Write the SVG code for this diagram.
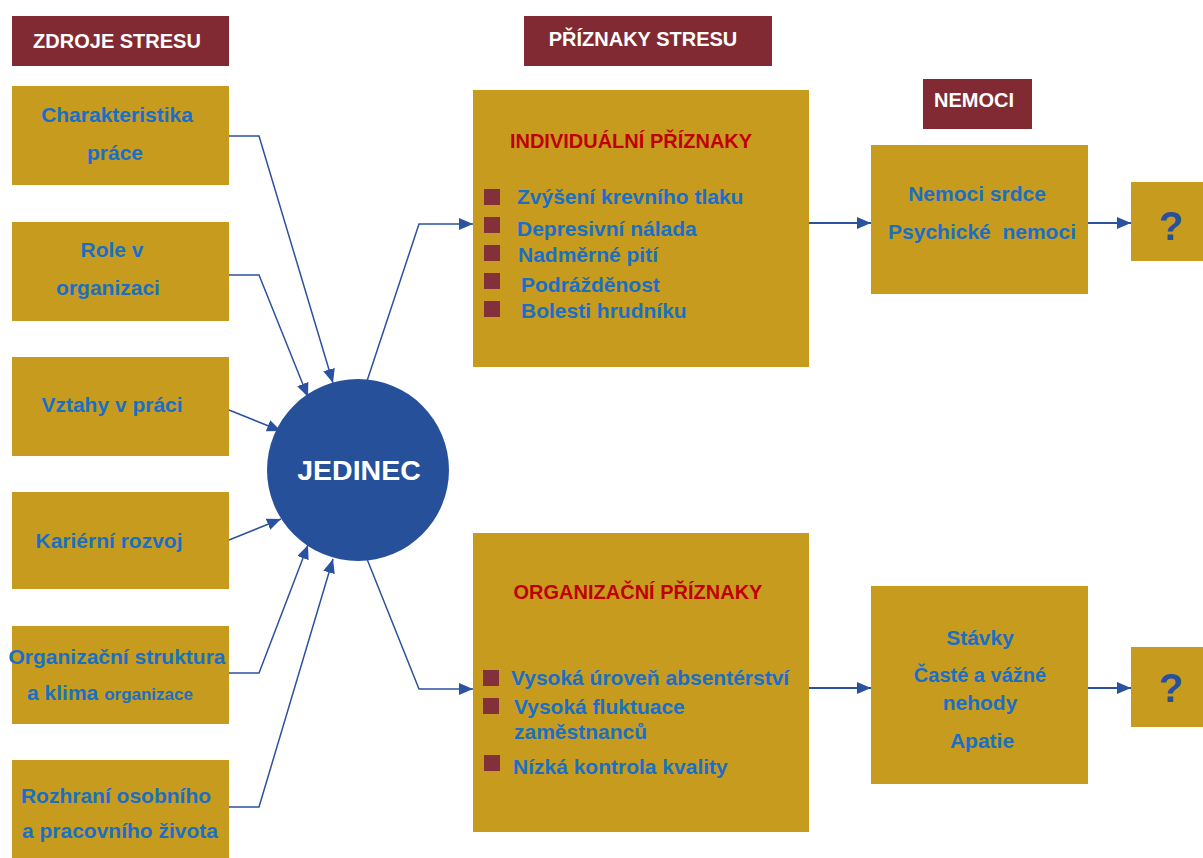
<svg xmlns="http://www.w3.org/2000/svg" width="1203" height="858" viewBox="0 0 1203 858">
  <style>
    .box { fill: #c79c1e; }
    .hdr { fill: #822a33; }
    .bul { fill: #83303a; }
    .t { font-family: "Liberation Sans", Arial, sans-serif; font-weight: bold; }
    .blue { fill: #1a6fc4; font-size: 21px; }
    .white { fill: #ffffff; font-size: 20px; }
    .red { fill: #c00000; font-size: 20px; }
    .q { fill: #2a4f9e; font-size: 40px; }
    .ln { fill: none; stroke: #2a52a0; stroke-width: 1.5; }
    .ln2 { fill: none; stroke: #2a52a0; stroke-width: 2; }
  </style>
  <defs>
    <marker id="arr" markerUnits="userSpaceOnUse" markerWidth="16" markerHeight="12" refX="14" refY="6" orient="auto">
      <path d="M0,0 L14,6 L0,12 Z" fill="#2a52a0"/>
    </marker>
  </defs>
  <rect width="1203" height="858" fill="#ffffff"/>

  <!-- column headers -->
  <g id="hdr-zdroje">
    <rect class="hdr" x="12" y="16" width="217" height="50"/>
    <text class="t white" x="117" y="48" text-anchor="middle">ZDROJE STRESU</text>
  </g>
  <g id="hdr-priznaky">
    <rect class="hdr" x="524" y="16" width="248" height="50"/>
    <text class="t white" x="643" y="46" text-anchor="middle">PŘÍZNAKY STRESU</text>
  </g>
  <g id="hdr-nemoci">
    <rect class="hdr" x="923" y="79" width="109" height="50"/>
    <text class="t white" x="974" y="107" text-anchor="middle">NEMOCI</text>
  </g>

  <!-- stress sources -->
  <g id="src-charakteristika">
    <rect class="box" x="12" y="86" width="217" height="99"/>
    <text class="t blue" x="117" y="122" text-anchor="middle">Charakteristika</text>
    <text class="t blue" x="115" y="160" text-anchor="middle">práce</text>
  </g>
  <g id="src-role">
    <rect class="box" x="12" y="222" width="217" height="99"/>
    <text class="t blue" x="112" y="257" text-anchor="middle">Role v</text>
    <text class="t blue" x="108" y="295" text-anchor="middle">organizaci</text>
  </g>
  <g id="src-vztahy">
    <rect class="box" x="12" y="357" width="217" height="99"/>
    <text class="t blue" x="112" y="412" text-anchor="middle">Vztahy v práci</text>
  </g>
  <g id="src-kariera">
    <rect class="box" x="12" y="492" width="217" height="97"/>
    <text class="t blue" x="109" y="548" text-anchor="middle">Kariérní rozvoj</text>
  </g>
  <g id="src-struktura">
    <rect class="box" x="12" y="626" width="217" height="98"/>
    <text class="t blue" x="117" y="664" text-anchor="middle">Organizační struktura</text>
    <text class="t blue" x="110" y="700" text-anchor="middle">a klima <tspan style="font-size:17px">organizace</tspan></text>
  </g>
  <g id="src-rozhrani">
    <rect class="box" x="12" y="760" width="217" height="98"/>
    <text class="t blue" x="116" y="803" text-anchor="middle">Rozhraní osobního</text>
    <text class="t blue" x="120" y="838" text-anchor="middle">a pracovního života</text>
  </g>

  <!-- central node -->
  <g id="jedinec">
    <circle cx="358" cy="470" r="91" fill="#27509b"/>
    <text class="t" x="359" y="480" text-anchor="middle" fill="#ffffff" font-size="28.5">JEDINEC</text>
  </g>

  <!-- symptoms -->
  <g id="individualni">
    <rect class="box" x="473" y="90" width="336" height="277"/>
    <text class="t red" x="631" y="148" text-anchor="middle">INDIVIDUÁLNÍ PŘÍZNAKY</text>
    <rect class="bul" x="484" y="189" width="16" height="16"/>
    <rect class="bul" x="484" y="217" width="16" height="16"/>
    <rect class="bul" x="484" y="245" width="16" height="16"/>
    <rect class="bul" x="484" y="273" width="16" height="16"/>
    <rect class="bul" x="484" y="301" width="16" height="16"/>
    <text class="t blue" x="517" y="204">Zvýšení krevního tlaku</text>
    <text class="t blue" x="517" y="236">Depresivní nálada</text>
    <text class="t blue" x="518" y="262">Nadměrné pití</text>
    <text class="t blue" x="521" y="292">Podrážděnost</text>
    <text class="t blue" x="521" y="318">Bolesti hrudníku</text>
  </g>
  <g id="organizacni">
    <rect class="box" x="473" y="533" width="336" height="299"/>
    <text class="t red" x="638" y="599" text-anchor="middle">ORGANIZAČNÍ PŘÍZNAKY</text>
    <rect class="bul" x="483" y="670" width="16" height="16"/>
    <rect class="bul" x="483" y="698" width="16" height="16"/>
    <rect class="bul" x="484" y="755" width="16" height="16"/>
    <text class="t blue" x="511" y="685">Vysoká úroveň absentérství</text>
    <text class="t blue" x="514" y="714">Vysoká fluktuace</text>
    <text class="t blue" x="514" y="739">zaměstnanců</text>
    <text class="t blue" x="513" y="774">Nízká kontrola kvality</text>
  </g>

  <!-- consequences -->
  <g id="nemoci">
    <rect class="box" x="871" y="145" width="217" height="149"/>
    <text class="t blue" x="977" y="201" text-anchor="middle">Nemoci srdce</text>
    <text class="t blue" x="982" y="239" text-anchor="middle">Psychické&#160; nemoci</text>
  </g>
  <g id="q-top">
    <rect class="box" x="1131" y="182" width="72" height="79"/>
    <text class="t q" x="1171" y="240" text-anchor="middle">?</text>
  </g>
  <g id="dusledky-org">
    <rect class="box" x="871" y="586" width="217" height="198"/>
    <text class="t blue" x="980" y="645" text-anchor="middle">Stávky</text>
    <text class="t blue" x="980" y="682" text-anchor="middle" style="font-size:20px">Časté a vážné</text>
    <text class="t blue" x="980" y="710" text-anchor="middle">nehody</text>
    <text class="t blue" x="982" y="748" text-anchor="middle">Apatie</text>
  </g>
  <g id="q-bottom">
    <rect class="box" x="1131" y="647" width="72" height="80"/>
    <text class="t q" x="1171" y="702" text-anchor="middle">?</text>
  </g>

  <!-- connectors -->
  <g id="connectors">
    <polyline class="ln" points="229,136 259,136 333,383" marker-end="url(#arr)"/>
    <polyline class="ln" points="229,275 259,275 308,397" marker-end="url(#arr)"/>
    <polyline class="ln" points="229,410 281,431" marker-end="url(#arr)"/>
    <polyline class="ln" points="229,540 281,519" marker-end="url(#arr)"/>
    <polyline class="ln" points="229,673 259,673 308,545" marker-end="url(#arr)"/>
    <polyline class="ln" points="229,807 259,807 333,559" marker-end="url(#arr)"/>
    <polyline class="ln" points="367,381 419,224 473,224" marker-end="url(#arr)"/>
    <polyline class="ln" points="367,559 419,689 473,689" marker-end="url(#arr)"/>
    <line class="ln2" x1="809" y1="223" x2="871" y2="223" marker-end="url(#arr)"/>
    <line class="ln2" x1="1088" y1="223" x2="1131" y2="223" marker-end="url(#arr)"/>
    <line class="ln2" x1="809" y1="688" x2="871" y2="688" marker-end="url(#arr)"/>
    <line class="ln2" x1="1088" y1="688" x2="1131" y2="688" marker-end="url(#arr)"/>
  </g>
</svg>
